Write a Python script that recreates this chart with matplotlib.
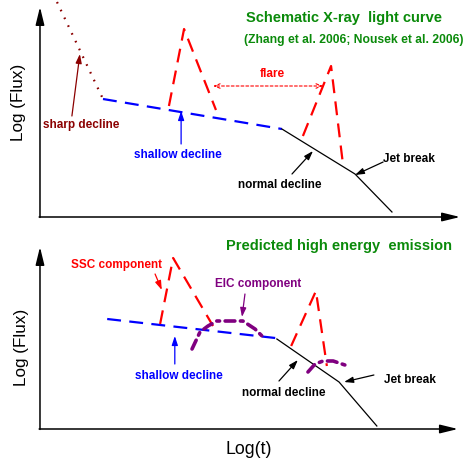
import matplotlib.pyplot as plt

plt.rcParams['font.family'] = ['Liberation Sans', 'DejaVu Sans']
plt.rcParams['lines.scale_dashes'] = False

# colours
c_green = '#0a8a0a'
c_red = '#ff0000'
c_blue = '#0000ff'
c_dred = '#8b0000'
c_purp = '#800080'

# ---- top panel: schematic X-ray light curve (x = log t, y = log flux) ----
sharp_x = [0.405, 1.5]
sharp_y = [10.75, 5.9]
shallow_x = [1.5, 5.76]
shallow_y = [5.9, 4.4]
normal_x = [5.76, 7.5, 8.38]
normal_y = [4.4, 2.15, 0.25]
flare1_x = [3.07, 3.43, 4.19]
flare1_y = [5.55, 9.4, 5.35]
flare2_x = [6.26, 6.93, 7.21]
flare2_y = [4.05, 7.55, 2.7]

# ---- bottom panel: predicted high energy emission ----
b_shallow_x = [1.6, 5.6]
b_shallow_y = [5.5, 4.55]
b_normal_x = [5.64, 7.12, 8.02]
b_normal_y = [4.5, 2.35, 0.15]
ssc1_x = [2.86, 3.17, 4.12]
ssc1_y = [5.25, 8.55, 5.15]
ssc2_x = [5.98, 6.57, 6.83]
ssc2_y = [4.15, 6.9, 3.15]
eic1_x = [3.62, 3.81, 4.0, 4.21, 4.83, 5.12, 5.31]
eic1_y = [4.0, 4.85, 5.15, 5.4, 5.4, 5.0, 4.6]
eic2_x = [6.38, 6.55, 6.74, 6.98, 7.33]
eic2_y = [2.85, 3.25, 3.4, 3.4, 3.15]

fig = plt.figure(figsize=(4.65, 4.64), dpi=100)
ax1 = fig.add_axes([0, 0.5, 1, 0.5])
ax2 = fig.add_axes([0, 0, 1, 0.5])
ax1.set_xlim(-0.952, 10.119)
ax1.set_ylim(-0.7, 10.9)
ax2.set_xlim(-0.952, 10.119)
ax2.set_ylim(-1.7, 9.9)
for ax in (ax1, ax2):
    ax.axis('off')

axis_arrow = dict(arrowstyle='-|>,head_length=0.9,head_width=0.22', color='k',
                  lw=1.1, mutation_scale=12, shrinkA=0, shrinkB=0)
small_arrow = dict(arrowstyle='-|>,head_length=0.6,head_width=0.2', lw=0.9,
                   mutation_scale=9, shrinkA=0, shrinkB=0)

dash_long = (10, 6)
lab = dict(fontsize=8.5, fontweight='bold', ha='center', va='center')

# top panel
ax1.annotate('', xy=(10.0, 0), xytext=(-0.02, 0), arrowprops=axis_arrow)
ax1.annotate('', xy=(0, 10.5), xytext=(0, -0.02), arrowprops=axis_arrow)
ax1.text(-0.5, 5.8, 'Log (Flux)', rotation=90, fontsize=12.3, ha='center', va='center')

ax1.plot(sharp_x, sharp_y, color=c_dred, lw=1.6, linestyle=(0, (1.2, 5)))
ax1.plot(shallow_x, shallow_y, color=c_blue, lw=1.6, dashes=dash_long)
ax1.plot(normal_x, normal_y, color='k', lw=0.9)
ax1.plot(flare1_x, flare1_y, color=c_red, lw=1.6, dashes=dash_long)
ax1.plot(flare2_x, flare2_y, color=c_red, lw=1.6, dashes=dash_long)

ax1.annotate('', xy=(4.12, 6.55), xytext=(6.74, 6.55),
             arrowprops=dict(arrowstyle='<->,head_length=0.5,head_width=0.2', color=c_red,
                             lw=0.8, linestyle=(0, (2, 1.5)), mutation_scale=8,
                             shrinkA=0, shrinkB=0))
ax1.text(5.52, 7.2, 'flare', color=c_red, **lab)

ax1.text(0.98, 4.65, 'sharp decline', color=c_dred, **lab)
ax1.annotate('', xy=(0.95, 8.15), xytext=(0.76, 5.05), arrowprops=dict(small_arrow, color=c_dred))
ax1.text(3.29, 3.15, 'shallow decline', color=c_blue, **lab)
ax1.annotate('', xy=(3.36, 5.3), xytext=(3.36, 3.65), arrowprops=dict(small_arrow, color=c_blue))
ax1.text(5.71, 1.65, 'normal decline', color='k', **lab)
ax1.annotate('', xy=(6.5, 3.3), xytext=(6.0, 2.15), arrowprops=dict(small_arrow, color='k'))
ax1.text(8.79, 2.95, 'Jet break', color='k', **lab)
ax1.annotate('', xy=(7.5, 2.1), xytext=(8.17, 2.75), arrowprops=dict(small_arrow, color='k'))

ax1.text(7.24, 10.0, 'Schematic X-ray  light curve', color=c_green, fontsize=10.5,
         fontweight='bold', ha='center', va='center')
ax1.text(7.48, 8.9, '(Zhang et al. 2006; Nousek et al. 2006)', color=c_green, fontsize=8.7,
         fontweight='bold', ha='center', va='center')

# bottom panel
ax2.annotate('', xy=(9.95, 0), xytext=(-0.02, 0), arrowprops=axis_arrow)
ax2.annotate('', xy=(0, 9.1), xytext=(0, -0.02), arrowprops=axis_arrow)
ax2.text(-0.43, 4.15, 'Log (Flux)', rotation=90, fontsize=12.3, ha='center', va='center')
ax2.text(4.98, -1.0, 'Log(t)', fontsize=12.7, ha='center', va='center')

ax2.plot(b_shallow_x, b_shallow_y, color=c_blue, lw=1.6, dashes=dash_long)
ax2.plot(b_normal_x, b_normal_y, color='k', lw=0.9)
ax2.plot(ssc1_x, ssc1_y, color=c_red, lw=1.6, dashes=dash_long)
ax2.plot(ssc2_x, ssc2_y, color=c_red, lw=1.6, dashes=dash_long)
ax2.plot(eic1_x, eic1_y, color=c_purp, lw=2.6, dashes=(7, 4, 2, 4), solid_capstyle='round',
         dash_capstyle='round')
ax2.plot(eic2_x, eic2_y, color=c_purp, lw=2.6, dashes=(7, 4, 2, 4), solid_capstyle='round',
         dash_capstyle='round')

ax2.text(1.81, 8.25, 'SSC component', color=c_red, **lab)
ax2.annotate('', xy=(2.9, 6.95), xytext=(2.74, 7.75), arrowprops=dict(small_arrow, color=c_red))
ax2.text(5.19, 7.3, 'EIC component', color=c_purp, **lab)
ax2.annotate('', xy=(4.81, 5.6), xytext=(4.88, 6.75), arrowprops=dict(small_arrow, color=c_purp))
ax2.text(3.31, 2.7, 'shallow decline', color=c_blue, **lab)
ax2.annotate('', xy=(3.21, 4.65), xytext=(3.21, 3.25), arrowprops=dict(small_arrow, color=c_blue))
ax2.text(5.81, 1.85, 'normal decline', color='k', **lab)
ax2.annotate('', xy=(6.14, 3.45), xytext=(5.69, 2.4), arrowprops=dict(small_arrow, color='k'))
ax2.text(8.81, 2.5, 'Jet break', color='k', **lab)
ax2.annotate('', xy=(7.24, 2.35), xytext=(7.95, 2.7), arrowprops=dict(small_arrow, color='k'))

ax2.text(7.12, 9.2, 'Predicted high energy  emission', color=c_green, fontsize=10.5,
         fontweight='bold', ha='center', va='center')

fig.savefig('out.png', dpi=100)
